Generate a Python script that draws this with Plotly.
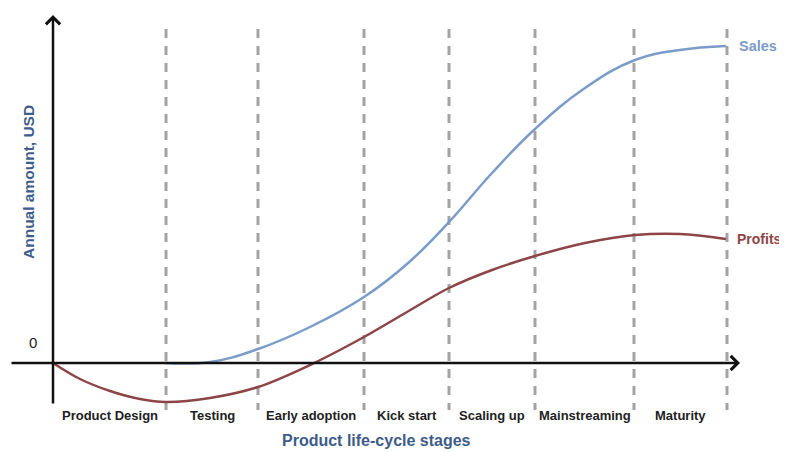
import plotly.graph_objects as go

# ---- data (time in arbitrary units, amounts in arbitrary USD units) ----
stages = ["Product Design", "Testing", "Early adoption", "Kick start",
          "Scaling up", "Mainstreaming", "Maturity"]
stage_bounds = [0, 11.3, 20.5, 31.1, 39.6, 48.2, 58.1, 67.4]

sales_t = [11.2, 15.7, 20.5, 25.7, 31.1, 35.4, 39.6, 43.9, 48.2, 53.2, 58.2, 62.7, 67.3]
sales_v = [0.0, 0.1, 1.4, 3.6, 6.6, 9.9, 14.1, 19.0, 23.4, 27.5, 30.3, 31.3, 31.7]

profit_t = [0, 2.7, 5.7, 8.7, 11.3, 15.7, 20.5, 25.7, 31.1, 35.4, 39.6, 43.9, 48.2,
            53.2, 58.2, 62.7, 67.3]
profit_v = [0, -1.6, -2.8, -3.6, -3.9, -3.5, -2.4, -0.2, 2.6, 5.1, 7.5, 9.3, 10.7,
            12.0, 12.8, 12.9, 12.4]

SALES_C = "#7b9cc8"
PROFIT_C = "#8e4548"
TITLE_C = "#3e5c8a"
FONT = "Liberation Sans"

fig = go.Figure()

# dashed stage boundaries
vx, vy = [], []
for b in stage_bounds[1:]:
    vx += [b, b, None]
    vy += [33.4, -4.7, None]
fig.add_trace(go.Scatter(x=vx, y=vy, mode="lines",
                         line=dict(color="#a3a3a3", width=3, dash="9px,8px"),
                         hoverinfo="skip", cliponaxis=False))

fig.add_trace(go.Scatter(x=sales_t, y=sales_v, mode="lines", name="Sales",
                         line=dict(color=SALES_C, width=2.5, shape="spline", smoothing=1.2),
                         cliponaxis=False))
fig.add_trace(go.Scatter(x=profit_t, y=profit_v, mode="lines", name="Profits",
                         line=dict(color=PROFIT_C, width=2.5, shape="spline", smoothing=1.0),
                         cliponaxis=False))

ann = []
# axes with arrows
ann.append(dict(x=68.7, y=0, ax=-4.3, ay=0, xref="x", yref="y", axref="x", ayref="y",
                showarrow=True, arrowhead=4, arrowsize=1.1, arrowwidth=2.5,
                arrowcolor="#111111", text="", standoff=0))
ann.append(dict(x=0, y=34.8, ax=0, ay=-4.2, xref="x", yref="y", axref="x", ayref="y",
                showarrow=True, arrowhead=4, arrowsize=1.1, arrowwidth=2.5,
                arrowcolor="#111111", text="", standoff=0))

# stage labels
for i, s in enumerate(stages):
    mid = (stage_bounds[i] + stage_bounds[i + 1]) / 2
    ann.append(dict(x=mid, y=-5.2, xref="x", yref="y", text="<b>" + s + "</b>",
                    showarrow=False, font=dict(family=FONT, size=13, color="#222222")))

# series labels
ann.append(dict(x=sales_t[-1] + 1.1, y=sales_v[-1], xref="x", yref="y", text="<b>Sales</b>",
                xanchor="left", showarrow=False, font=dict(family=FONT, size=14.5, color=SALES_C)))
ann.append(dict(x=profit_t[-1] + 0.9, y=profit_v[-1], xref="x", yref="y", text="<b>Profits</b>",
                xanchor="left", showarrow=False, font=dict(family=FONT, size=14, color=PROFIT_C)))

# zero label
ann.append(dict(x=-2.0, y=2.1, xref="x", yref="y", text="0", showarrow=False,
                font=dict(family=FONT, size=15, color="#222222")))

# axis titles
ann.append(dict(x=-2.5, y=18.1, xref="x", yref="y", text="<b>Annual amount, USD</b>",
                textangle=-90, showarrow=False, font=dict(family=FONT, size=15.5, color=TITLE_C)))
ann.append(dict(x=32.3, y=-7.7, xref="x", yref="y", text="<b>Product life-cycle stages</b>",
                showarrow=False, font=dict(family=FONT, size=16, color=TITLE_C)))

# the page body adds an 8px margin, so the figure is 8px smaller and the
# ranges are chosen so that the chart lands where the reference has it
fig.update_layout(
    width=779, height=444,
    margin=dict(l=0, r=0, t=0, b=0),
    paper_bgcolor="white", plot_bgcolor="white",
    showlegend=False,
    xaxis=dict(range=[-4.5, 73.4], visible=False, fixedrange=True),
    yaxis=dict(range=[-8.9, 35.5], visible=False, fixedrange=True),
    annotations=ann,
)

fig.write_html("out.html")
